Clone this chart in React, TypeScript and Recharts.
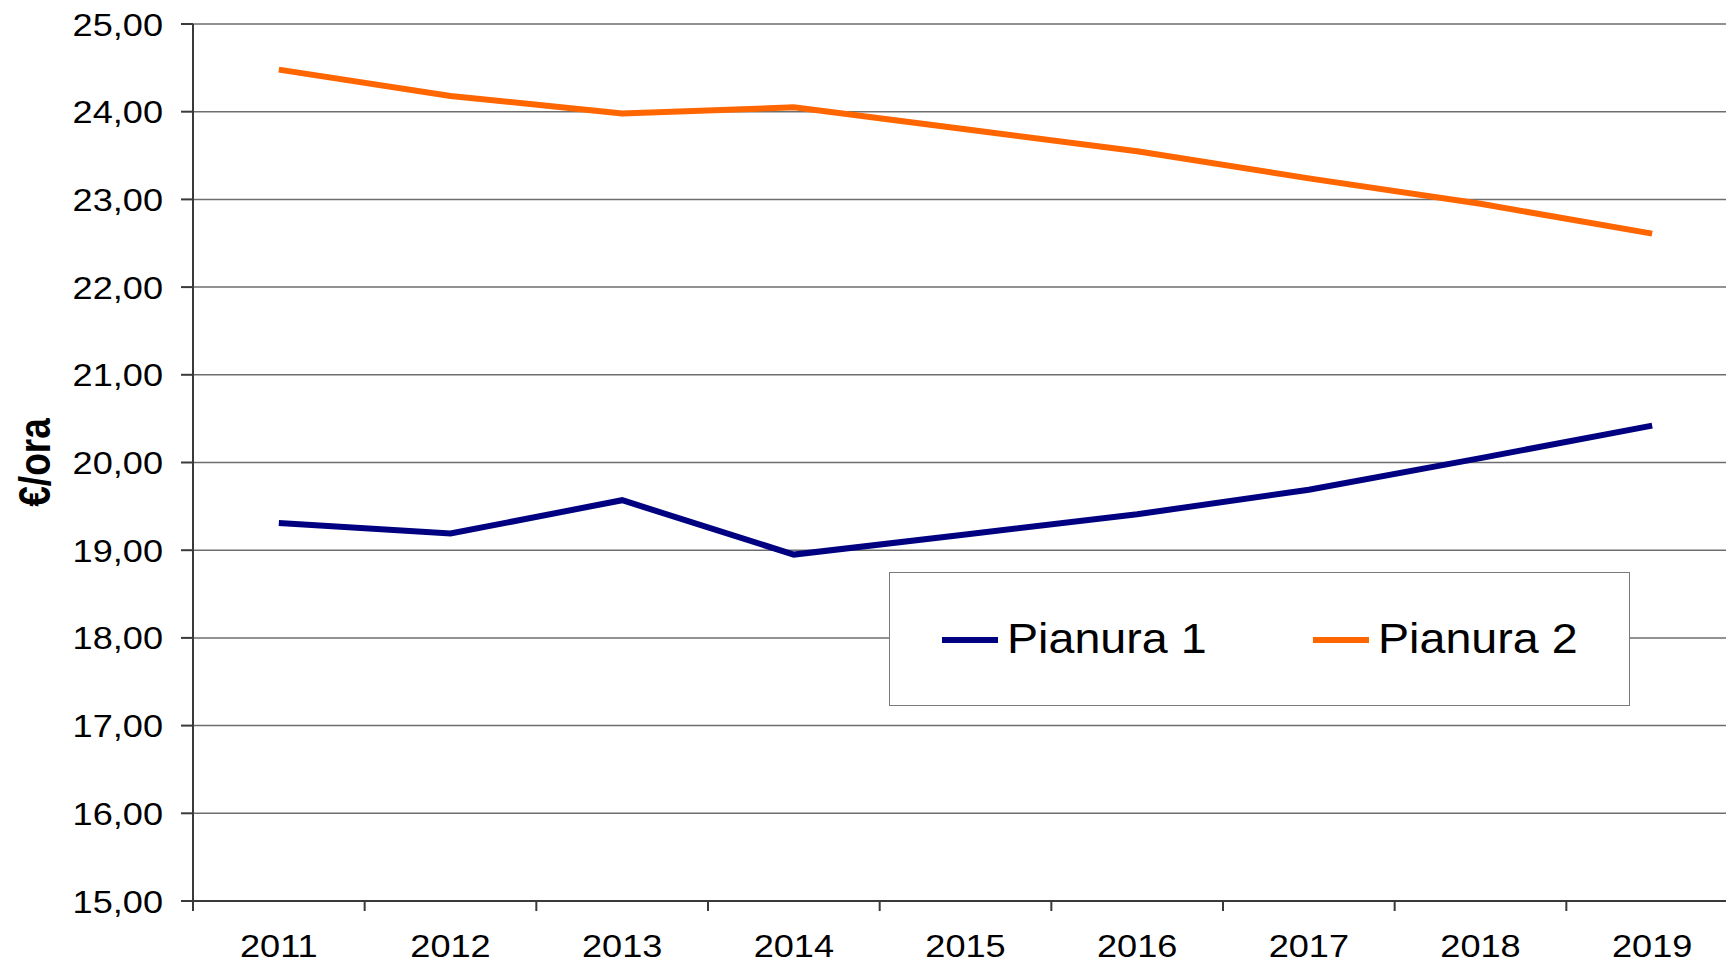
import { LineChart, Line, XAxis, YAxis, CartesianGrid, Label } from 'recharts';

const years = ['2011', '2012', '2013', '2014', '2015', '2016', '2017', '2018', '2019'];
const pianura1 = [19.31, 19.19, 19.57, 18.95, 19.18, 19.41, 19.69, 20.05, 20.42];
const pianura2 = [24.48, 24.18, 23.98, 24.05, 23.8, 23.55, 23.24, 22.95, 22.61];
const yTicks = [15, 16, 17, 18, 19, 20, 21, 22, 23, 24, 25];

const series = [
  { key: 'p1', name: 'Pianura 1', color: '#000080', values: pianura1 },
  { key: 'p2', name: 'Pianura 2', color: '#FF6600', values: pianura2 },
];

const data = years.map((year, i) => {
  const row: Record<string, string | number> = { year };
  series.forEach((s) => {
    row[s.key] = s.values[i];
  });
  return row;
});

const FONT = '"Liberation Sans", Arial, sans-serif';
const STRETCH = 1.13; // reference text is slightly wide
const AXIS = '#3a3a3a';

const fmt = (v: number) => v.toFixed(2).replace('.', ',');

function XTick(props: any) {
  const { x, y, payload } = props;
  const off = payload?.offset ?? 0;
  return (
    <g>
      <line x1={x - off} y1={y - 10} x2={x - off} y2={y} stroke={AXIS} strokeWidth={2} />
      <text
        transform={`translate(${x},${y + 46}) scale(${STRETCH},1)`}
        textAnchor="middle"
        fontFamily={FONT}
        fontSize={32}
        fill="#000"
      >
        {payload.value}
      </text>
    </g>
  );
}

function YTick(props: any) {
  const { x, y, payload } = props;
  return (
    <text
      transform={`translate(${x},${y}) scale(${STRETCH},1)`}
      textAnchor="end"
      dy="0.36em"
      fontFamily={FONT}
      fontSize={32}
      fill="#000"
    >
      {fmt(payload.value)}
    </text>
  );
}

function YTitle(props: any) {
  const vb = props.viewBox || { x: 0, y: 0, height: 0 };
  const cy = vb.y + vb.height / 2;
  return (
    <text
      transform={`translate(${vb.x + 50},${cy}) scale(1.18,1) rotate(-90)`}
      textAnchor="middle"
      fontFamily={FONT}
      fontWeight="bold"
      fontSize={37}
      fill="#000"
    >
      €/ora
    </text>
  );
}

function LegendBox() {
  return (
    <div
      style={{
        position: 'absolute',
        left: 889,
        top: 572,
        width: 741,
        height: 134,
        boxSizing: 'border-box',
        border: '1.5px solid #7a7a7a',
        background: '#fff',
        display: 'flex',
        alignItems: 'center',
        paddingLeft: 52,
        overflow: 'hidden',
      }}
    >
      {series.map((s) => (
        <div
          key={s.key}
          style={{ width: 371, flexShrink: 0, display: 'flex', alignItems: 'center' }}
        >
          <div style={{ width: 56, height: 6, background: s.color, marginTop: 2, flexShrink: 0 }} />
          <span
            style={{
              marginLeft: 9,
              fontFamily: FONT,
              fontSize: 42,
              color: '#000',
              display: 'inline-block',
              transform: 'scale(1.11,1)',
              transformOrigin: 'left center',
              whiteSpace: 'nowrap',
            }}
          >
            {s.name}
          </span>
        </div>
      ))}
    </div>
  );
}

export default function App() {
  return (
    <div
      style={{
        position: 'fixed',
        left: 0,
        top: 0,
        width: 1726,
        height: 962,
        overflow: 'hidden',
        background: '#fff',
      }}
    >
      <LineChart
        width={1738}
        height={962}
        data={data}
        margin={{ top: 24, right: 0, bottom: 0, left: 0 }}
      >
        <CartesianGrid vertical={false} stroke="#6e6e6e" strokeWidth={1.5} />
        <XAxis
          dataKey="year"
          scale="band"
          height={61}
          axisLine={{ stroke: AXIS, strokeWidth: 2 }}
          tickLine={false}
          tickSize={10}
          tickMargin={0}
          interval={0}
          tick={<XTick />}
        />
        <YAxis
          width={193}
          domain={[15, 25]}
          ticks={yTicks}
          interval={0}
          axisLine={{ stroke: AXIS, strokeWidth: 2 }}
          tickLine={{ stroke: AXIS, strokeWidth: 2 }}
          tickSize={12}
          tickMargin={18}
          tick={<YTick />}
        >
          <Label content={<YTitle />} />
        </YAxis>
        {series.map((s) => (
          <Line
            key={s.key}
            type="linear"
            dataKey={s.key}
            name={s.name}
            stroke={s.color}
            strokeWidth={6}
            dot={false}
            activeDot={false}
            isAnimationActive={false}
          />
        ))}
      </LineChart>
      <LegendBox />
    </div>
  );
}
